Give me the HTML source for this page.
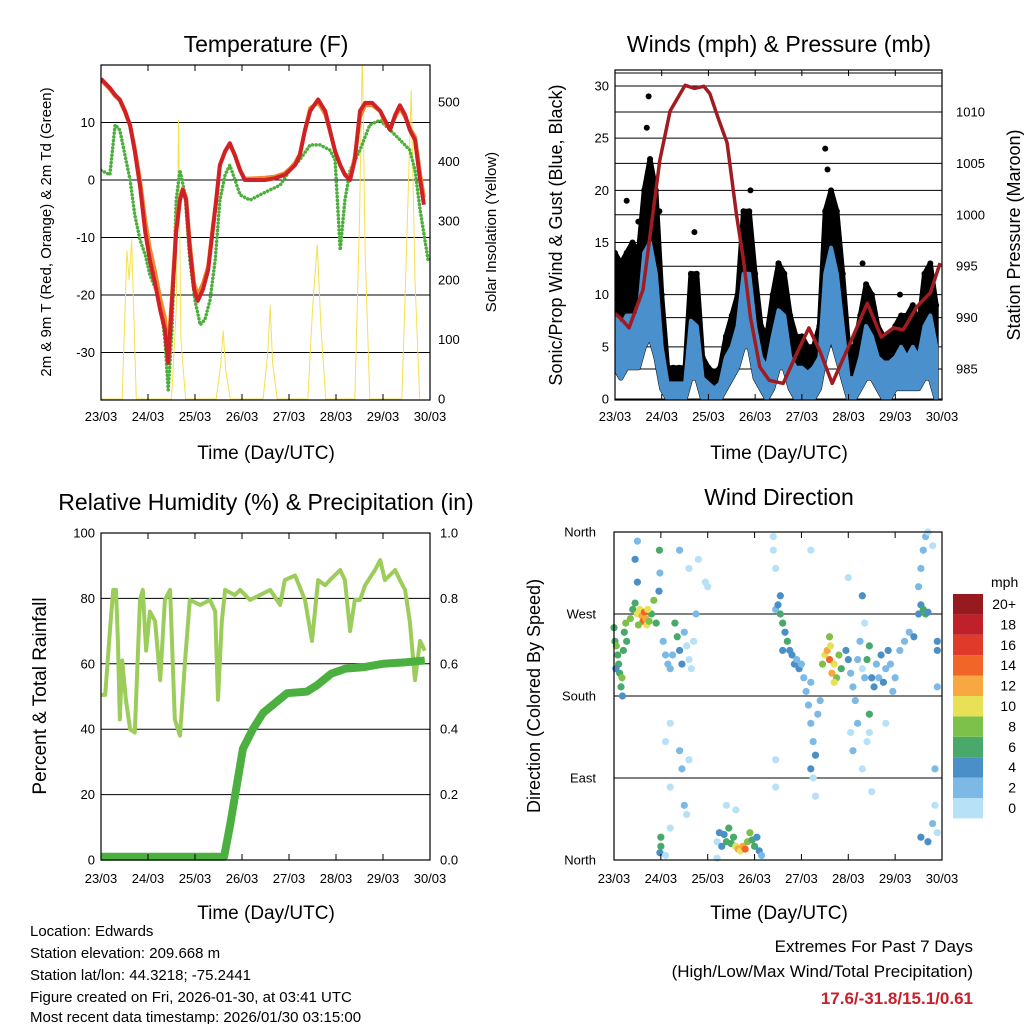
<!DOCTYPE html>
<html><head><meta charset="utf-8"><style>
body{margin:0;background:#fff}
svg text{font-family:"Liberation Sans",Arial,sans-serif;fill:#000}
</style></head><body>
<svg id="s" width="1024" height="1024" viewBox="0 0 1024 1024" xmlns="http://www.w3.org/2000/svg">
<g id="g1"></g>
<g id="g2"></g>
<g id="g3"></g>
<g id="g4"></g>
<g id="tx">
<text x="266" y="52" font-size="23" text-anchor="middle">Temperature (F)</text>
<text x="779" y="52" font-size="23" text-anchor="middle">Winds (mph) &amp; Pressure (mb)</text>
<text x="266" y="510" font-size="23" text-anchor="middle">Relative Humidity (%) &amp; Precipitation (in)</text>
<text x="779" y="505" font-size="23" text-anchor="middle">Wind Direction</text>
<text x="266" y="459" font-size="19" text-anchor="middle">Time (Day/UTC)</text>
<text x="779" y="459" font-size="19" text-anchor="middle">Time (Day/UTC)</text>
<text x="266" y="919" font-size="19" text-anchor="middle">Time (Day/UTC)</text>
<text x="779" y="919" font-size="19" text-anchor="middle">Time (Day/UTC)</text>
<text transform="translate(51,232) rotate(-90)" font-size="15" text-anchor="middle">2m &amp; 9m T (Red, Orange) &amp; 2m Td (Green)</text>
<text transform="translate(496,232) rotate(-90)" font-size="15" text-anchor="middle">Solar Insolation (Yellow)</text>
<text transform="translate(562,235) rotate(-90)" font-size="18" text-anchor="middle">Sonic/Prop Wind &amp; Gust (Blue, Black)</text>
<text transform="translate(1020,235) rotate(-90)" font-size="18" text-anchor="middle">Station Pressure (Maroon)</text>
<text transform="translate(46,696) rotate(-90)" font-size="19" text-anchor="middle">Percent &amp; Total Rainfall</text>
<text transform="translate(540,696) rotate(-90)" font-size="18" text-anchor="middle">Direction (Colored By Speed)</text>
<text x="30" y="936" font-size="15">Location: Edwards</text>
<text x="30" y="958" font-size="15">Station elevation: 209.668 m</text>
<text x="30" y="980" font-size="15">Station lat/lon: 44.3218; -75.2441</text>
<text x="30" y="1002" font-size="15">Figure created on Fri, 2026-01-30, at 03:41 UTC</text>
<text x="30" y="1022" font-size="15">Most recent data timestamp: 2026/01/30 03:15:00</text>
<text x="973" y="952" font-size="17" text-anchor="end">Extremes For Past 7 Days</text>
<text x="973" y="977" font-size="17" text-anchor="end">(High/Low/Max Wind/Total Precipitation)</text>
<text x="973" y="1004" font-size="17" font-weight="bold" text-anchor="end" style="fill:#c8202a">17.6/-31.8/15.1/0.61</text>
</g>
</svg>
<script>
const dayLabels=["23/03","24/03","25/03","26/03","27/03","28/03","29/03","30/03"];
const tempTicks=[-30,-20,-10,0,10];
const solarTicks=[0,100,200,300,400,500];
const windTicks=[0,5,10,15,20,25,30];
const presTicks=[985,990,995,1000,1005,1010];
const rhTicks=[0,20,40,60,80,100];
const rainTicks=["0.0","0.2","0.4","0.6","0.8","1.0"];
const dirNames=["North","East","South","West","North"];
const tempT=[0,.19,.30,.40,.51,.62,.72,.83,.94,1.04,1.15,1.26,1.36,1.43,1.51,1.60,1.68,1.74,1.81,1.89,1.98,2.06,2.17,2.28,2.36,2.45,2.53,2.64,2.74,2.85,2.96,3.06,3.28,3.49,3.70,3.91,4.02,4.13,4.23,4.34,4.45,4.62,4.77,4.87,4.98,5.09,5.19,5.30,5.40,5.51,5.62,5.77,5.94,6.04,6.15,6.26,6.36,6.47,6.57,6.68,6.79,6.87];
const tempRed=[17.6,16,14.8,14,12,9.5,5,-1,-9,-14,-18,-22.6,-26,-31.8,-21,-9,-3.5,-1.7,-3.5,-12,-19,-21,-19,-15.6,-10,-3.5,2.6,5,6.4,4.3,1.7,0,0,0,0.3,0.9,1.7,2.6,4.3,8.7,12,14,12,8.7,5,2.6,0.9,0,3.5,12,13.4,13.4,12,10.4,8.7,11.3,13,11.3,8.7,7,0,-4.3];
const tempOrange=[17.4,15.8,14.6,13.8,11.8,9.5,5.5,0,-7,-12,-16,-20.6,-24,-30,-20,-8,-3,-1.5,-3,-11,-18,-20,-18,-15,-9.5,-3.5,2.6,5,6.2,4.3,1.7,0.2,0.3,0.4,0.6,1.2,2,3,4.5,8.7,12.5,13.5,11.5,8.5,5,2.6,1,0.5,4,11,13,13,12,10,9,11,12.5,11,9,7.5,1,-3];
const dewT=[0,.19,.30,.40,.51,.62,.72,.83,.94,1.04,1.26,1.36,1.43,1.51,1.60,1.68,1.79,1.89,2.00,2.11,2.21,2.32,2.43,2.53,2.64,2.74,2.96,3.17,3.38,3.60,3.81,4.02,4.23,4.45,4.66,4.87,4.98,5.09,5.19,5.30,5.51,5.72,5.94,6.15,6.36,6.57,6.68,6.79,6.96];
const dewV=[1.7,0.9,9.6,8.7,4.3,0,-6.1,-10.4,-13,-16.5,-20.9,-27.8,-36.5,-26.1,-3.5,1.7,-2.6,-13.9,-20.9,-25.2,-24.3,-20.9,-13.9,-3.5,0.9,2.6,-2.6,-3.5,-2.6,-1.7,-0.9,1.7,3.5,6.1,6.1,5.2,3.5,-12.2,-3.5,1.7,5.2,9.6,10.4,8.7,7,5.2,1.7,-5.2,-13.9];
const solarT=[0,0.45,0.55,0.6,0.65,0.75,1.5,1.6,1.65,1.7,1.8,2.45,2.55,2.6,2.65,2.75,3.45,3.55,3.6,3.65,3.75,4.4,4.5,4.6,4.68,4.78,5.4,5.5,5.56,5.62,5.72,6.4,6.5,6.6,6.68,6.78];
const solarV=[0,0,250,200,270,0,0,150,470,100,0,0,60,115,50,0,0,80,158,60,0,0,150,260,120,0,0,300,590,250,0,0,250,520,200,0];
const windT=[0,.125,.25,.375,.5,.625,.75,.875,1,1.125,1.25,1.375,1.5,1.625,1.75,1.875,2,2.125,2.25,2.375,2.5,2.625,2.75,2.875,3,3.125,3.25,3.375,3.5,3.625,3.75,3.875,4,4.125,4.25,4.375,4.5,4.625,4.75,4.875,5,5.125,5.25,5.375,5.5,5.625,5.75,5.875,6,6.125,6.25,6.375,6.5,6.625,6.75,6.875];
const gustHi=[14,13,14,15,14,20,23,20,10,3,3,3,3,12,12,4,3,2.5,3,6,8,10,18,18,12,7,6,10,13,12,8,6,6,5,5,7,18,20,18,12,5,5,8,11,10,7,6,6,7,8,8,9,7,12,13,9];
const windHi=[8,7,8,8,8,14,15,12,5,1.5,1.5,1.5,1.5,7.5,7,2,1.5,1,1.5,4,5,7,12,12,7,4,3,6,8.5,8,4,3,3,2.5,3,4,12,14.5,12,7,2,2,4,7,6,4,3.5,3.5,4,5,4,5,4,7,8,5];
const windLo=[3,2,3,3,3,5,6,4,1,0,0,0,0,2,2,0,0,0,0,1,2,3,5,5,2,1,0,1,3,3,1,0,0,0,0,1,4,6,4,2,0,0,1,2,2,1,0,0,1,1,1,1,1,2,2,0];
const gustOutT=[0.25,0.5,0.72,0.68,0.95,1.7,2.9,3.5,4.5,4.55,5.3,6.1];
const gustOutV=[19,17,29,26,18,16,20,13,24,22,13,10];
const presT=[0,.15,.3,.6,.96,1.18,1.5,1.7,1.9,2.03,2.2,2.4,2.6,2.75,2.9,3.1,3.3,3.6,3.9,4.15,4.4,4.65,5.03,5.4,5.7,5.96,6.17,6.47,6.75,6.96];
const presV=[990.4,989.8,989,992.7,1005.3,1010.1,1012.6,1012.3,1012.5,1011.8,1009.5,1007,1000,995.6,990,985.2,983.9,983.6,986.6,989,986.6,983.6,987.5,991.4,988.1,989,988.8,991.1,992.4,995.3];
const rhT=[0,.09,.19,.26,.32,.36,.40,.45,.53,.62,.72,.83,.89,.96,1.04,1.15,1.26,1.36,1.47,1.57,1.68,1.79,1.89,2.11,2.32,2.43,2.49,2.57,2.64,2.85,2.96,3.17,3.38,3.60,3.81,3.91,4.13,4.34,4.49,4.62,4.77,4.87,5.09,5.19,5.30,5.40,5.51,5.62,5.83,5.94,6.04,6.26,6.36,6.47,6.57,6.68,6.79,6.89];
const rhV=[50.5,50.5,70,82.6,82.6,67,43,61,49,40,39,79.5,82.6,64,76,73,55,79.5,82.6,43,38,61,79.5,78,79.5,76,49,73,82.6,81,82.6,79.5,81,82.6,78,85.6,87,79.5,67,85.6,84,85.6,88.7,85.6,70,79.5,79.5,84,88.7,91.7,85.6,88.7,85.6,82.6,73,55,67,64];
const rainT=[0,2.62,2.75,3.02,3.23,3.45,3.96,4.38,4.6,4.9,5.2,5.6,6.0,6.5,6.89];
const rainV=[0.01,0.01,0.11,0.34,0.40,0.45,0.51,0.515,0.535,0.57,0.585,0.59,0.60,0.605,0.61];
const dirT=[0,.02,.05,.08,.1,.12,.15,.17,.2,.22,.25,.27,.04,.18,.35,.4,.45,.5,.55,.6,.62,.65,.68,.7,.75,.8,.85,.9,.52,.72,.5,.45,.5,.97,.98,.96,1.05,1.1,1.15,1.2,1.25,1.3,1.35,1.4,1.45,1.5,1.55,1.6,1.65,1.7,1.75,1.1,1.2,1.4,1.45,1.5,1.55,1.2,1.6,1.8,1.95,2,1.6,1.4,1,1,.98,1.1,1.2,2.2,2.25,2.3,2.35,2.4,2.45,2.5,2.55,2.6,2.65,2.7,2.75,2.8,2.85,2.9,2.95,3,3.05,3.1,3.15,2.2,2.4,2.6,3.45,3.45,3.4,3.4,3.45,4.2,3.45,3.5,3.55,3.6,3.65,3.7,3.75,3.8,3.85,3.9,3.95,4,3.55,3.6,4.05,4.1,4.15,4.2,4.25,4.3,4.35,4.4,4.2,4.25,4.3,4.2,4.45,4.5,4.55,4.6,4.62,4.65,4.7,4.75,4.8,4.85,4.6,4.7,4.95,5,5.05,5.1,5.15,5.2,5.25,5.3,5.35,5.4,5.45,5.5,5.55,5.6,5.65,5.7,5.75,5.8,5.85,5.9,5.95,6,5.05,5.1,5.2,5.3,5.4,5.45,5.5,5.8,5,5.3,5.35,5.45,6.1,6.2,6.3,6.4,6.5,6.55,6.6,6.65,6.7,6.5,6.55,6.6,6.65,6.7,6.8,6.9,6.9,6.9,6.85,6.85,6.9,6.8,6.7,6.55];
const dirV=[255,240,235,225,215,205,190,200,230,250,260,240,210,180,265,275,282,270,275,268,262,272,265,258,262,270,285,260,258,275,305,330,350,340,315,295,240,225,215,210,225,260,245,230,215,250,235,220,210,240,270,130,150,120,100,60,50,80,110,330,305,300,320,340,15,25,8,5,35,20,30,15,28,20,35,18,25,15,12,10,15,12,20,30,22,15,25,10,5,2,60,55,80,110,355,340,320,340,275,280,270,260,250,240,230,225,215,220,210,215,290,230,200,185,170,150,130,115,160,175,100,90,70,195,215,225,230,220,235,205,215,200,225,210,245,195,230,220,205,190,175,220,240,210,200,220,235,200,190,215,200,225,195,210,230,215,185,200,140,120,150,100,130,160,75,150,310,290,260,140,230,240,250,245,270,280,275,270,272,300,320,340,355,360,345,240,230,190,100,60,30,40,20,25];
const dirS=[7,7,8,7,6,7,6,8,6,7,8,6,4,4,8,7,6,10,11,13,14,15,12,10,8,6,8,7,8,11,4,4,3,6,3,4,3,2,2,3,3,6,6,5,4,2,1,1,1,1,2,1,1,3,3,2,1,1,1,1,1,1,1,3,6,7,4,1,1,1,4,4,5,6,6,6,7,10,12,11,13,15,9,8,7,6,5,4,2,1,1,1,1,1,1,1,1,1,2,5,6,7,5,6,4,4,4,3,4,3,4,4,2,2,2,3,3,4,3,2,4,1,1,2,8,11,12,14,10,13,10,9,8,7,8,11,4,4,3,2,2,2,2,1,2,6,7,5,4,2,3,4,4,3,4,3,2,2,1,2,2,1,1,6,1,1,1,4,1,1,3,2,2,4,4,5,6,7,4,3,3,2,2,1,1,4,4,3,2,1,1,2,4,4];
const speedColors=["#b7e1f7","#7db9e5","#4a8fc7","#48a96b","#7dc14a","#e8e055","#f7a840","#f26529","#e03a2a","#c0202a","#961a1e"];
const speedLabels=["0","2","4","6","8","10","12","14","16","18","20+"];

const NS="http://www.w3.org/2000/svg";
function mk(parent,tag,attrs){const e=document.createElementNS(NS,tag);for(const k in attrs)e.setAttribute(k,attrs[k]);parent.appendChild(e);return e;}
function lin(d0,d1,r0,r1){return v=>r0+(v-d0)/(d1-d0)*(r1-r0);}
function pathD(xs,ys,fx,fy){return xs.map((t,i)=>(i?"L":"M")+fx(t).toFixed(1)+","+fy(ys[i]).toFixed(1)).join("");}
function frame(g,x0,x1,y0,y1,fx,labY){
  const r=mk(g,"rect",{x:x0,y:y0,width:x1-x0,height:y1-y0,fill:"none",stroke:"#000","stroke-width":1.2});
  
  
  dayLabels.forEach((l,i)=>{const x=fx(i);
    const tk=mk(g,"line",{x1:x,x2:x,y1:y1,y2:y1-6,stroke:"#000"});
    
    
    const t2=mk(g,"line",{x1:x,x2:x,y1:y0,y2:y0+6,stroke:"#000"});
    
    
    const tx=mk(g,"text",{x:x,y:labY,"font-size":13,"text-anchor":"middle"});tx.textContent=l;
    
    
  });
}
function hgrid(g,x0,x1,y,w){const l=mk(g,"line",{x1:x0,x2:x1,y1:y,y2:y,stroke:"#000","stroke-width":w||1});
  
  }
function ylab(g,x,y,txt,anchor){const t=mk(g,"text",{x:x,y:y+4.5,"font-size":13,"text-anchor":anchor});t.textContent=txt;
  
  }

// Panel 1: temperature
(function(){const g=document.getElementById("g1");
 const x0=101,x1=430,y0=65,y1=400;const fx=lin(0,7,x0,x1);const fy=lin(0,10,180,122.5);const fs=lin(0,500,399,102);
 const cp=mk(g,"clipPath",{id:"c1"});mk(cp,"rect",{x:x0,y:y0,width:x1-x0,height:y1-y0});
 tempTicks.forEach(v=>{hgrid(g,x0,x1,fy(v));ylab(g,x0-6,fy(v),v,"end");});
 solarTicks.forEach(v=>{ylab(g,x1+8,fs(v),v,"start");});
 const cg=mk(g,"g",{"clip-path":"url(#c1)"});
 const s=mk(cg,"path",{d:pathD(solarT,solarV,fx,fs),fill:"none",stroke:"#f5e050","stroke-width":1});
 
 
 const d=mk(cg,"path",{d:pathD(dewT,dewV,fx,fy),fill:"none",stroke:"#4cae3c","stroke-width":3.5,"stroke-dasharray":"0.1,3.6","stroke-linecap":"round"});
 
 
 const o=mk(cg,"path",{d:pathD(tempT,tempOrange,fx,fy),fill:"none",stroke:"#f08a30","stroke-width":4,"stroke-linejoin":"round"});
 
 
 const r=mk(cg,"path",{d:pathD(tempT,tempRed,fx,fy),fill:"none",stroke:"#d02126","stroke-width":4,"stroke-linejoin":"round"});
 
 
 frame(g,x0,x1,y0,y1,fx,421);
})();

// Panel 2: winds
(function(){const g=document.getElementById("g2");
 const x0=615,x1=942,y0=70,y1=400;const fx=lin(0,7,x0,x1);const fy=lin(0,30,399,86);const fp=lin(985,1010,369,112);
 const cp=mk(g,"clipPath",{id:"c2"});mk(cp,"rect",{x:x0,y:y0,width:x1-x0,height:y1-y0});
 windTicks.forEach(v=>{hgrid(g,x0,x1,fy(v));ylab(g,x0-6,fy(v),v,"end");});
 presTicks.forEach(v=>{hgrid(g,x0,x1,fp(v));ylab(g,x1+14,fp(v),v,"start");});
 hgrid(g,x0,x1,73);
 const cg=mk(g,"g",{"clip-path":"url(#c2)"});
 function band(lo,hi,color,name,w){
  const d=pathD(windT,hi,fx,fy)+windT.slice().reverse().map((t,i)=>"L"+fx(t).toFixed(1)+","+fy(lo[lo.length-1-i]).toFixed(1)).join("")+"Z";
  const p=mk(cg,"path",{d:d,fill:color,stroke:color,"stroke-width":w,"stroke-linejoin":"round"});
  
  
 }
 band(windLo,gustHi,"#000","gust-band",5);
 gustHi.forEach((v,i)=>{const c=mk(cg,"circle",{cx:fx(windT[i]),cy:fy(v),r:3,fill:"#000"});
  
  });
 gustOutT.forEach((t,i)=>{const c=mk(cg,"circle",{cx:fx(t),cy:fy(gustOutV[i]),r:3,fill:"#000"});
  
  });
 band(windLo,windHi,"#4a90cc","wind-band",4);
 const p=mk(cg,"path",{d:pathD(presT,presV,fx,fp),fill:"none",stroke:"#a01c22","stroke-width":3.5,"stroke-linejoin":"round"});
 
 
 frame(g,x0,x1,y0,y1,fx,421);
})();

// Panel 3: humidity
(function(){const g=document.getElementById("g3");
 const x0=101,x1=430,y0=533,y1=860;const fx=lin(0,7,x0,x1);const fy=lin(0,100,860,533);const fr=lin(0,1,860,533);
 const cp=mk(g,"clipPath",{id:"c3"});mk(cp,"rect",{x:x0,y:y0-3,width:x1-x0,height:y1-y0+6});
 rhTicks.forEach((v,i)=>{if(v>0&&v<100)hgrid(g,x0,x1,fy(v));ylab(g,x0-6,fy(v),v,"end");ylab(g,x1+10,fy(v),rainTicks[i],"start");});
 const cg=mk(g,"g",{"clip-path":"url(#c3)"});
 const h=mk(cg,"path",{d:pathD(rhT,rhV,fx,fy),fill:"none",stroke:"#9ccd5a","stroke-width":4,"stroke-linejoin":"round"});
 
 
 const r=mk(cg,"path",{d:pathD(rainT,rainV,fx,fr),fill:"none",stroke:"#4cb040","stroke-width":8,"stroke-linejoin":"round"});
 
 
 frame(g,x0,x1,y0,y1,fx,883);
})();

// Panel 4: wind direction
(function(){const g=document.getElementById("g4");
 const x0=614,x1=942,y0=532,y1=860;const fx=lin(0,7,x0,x1);const fy=lin(0,360,860,532);
 dirNames.forEach((n,i)=>{const y=fy(i*90);hgrid(g,x0,x1,y);ylab(g,x0-18,y,n,"end");});
 dirT.forEach((t,i)=>{const s=dirS[i];const k=Math.min(10,Math.floor(s/2));
  const c=mk(g,"circle",{cx:fx(t),cy:fy(dirV[i]),r:3.6,fill:speedColors[k]});
  
  });
 frame(g,x0,x1,y0,y1,fx,883);
 const lg=mk(g,"g",{});
 
 
 const mt=mk(lg,"text",{x:991,y:587,"font-size":14});mt.textContent="mph";
 
 
 speedColors.forEach((c,i)=>{const y=594+(10-i)*20.4;
  const r=mk(lg,"rect",{x:953,y:y,width:30,height:20.4,fill:c});
  
  
  const t=mk(lg,"text",{x:1016,y:y+15,"font-size":14,"text-anchor":"end"});t.textContent=speedLabels[i];
  
  });
})();
</script>
</body></html>
